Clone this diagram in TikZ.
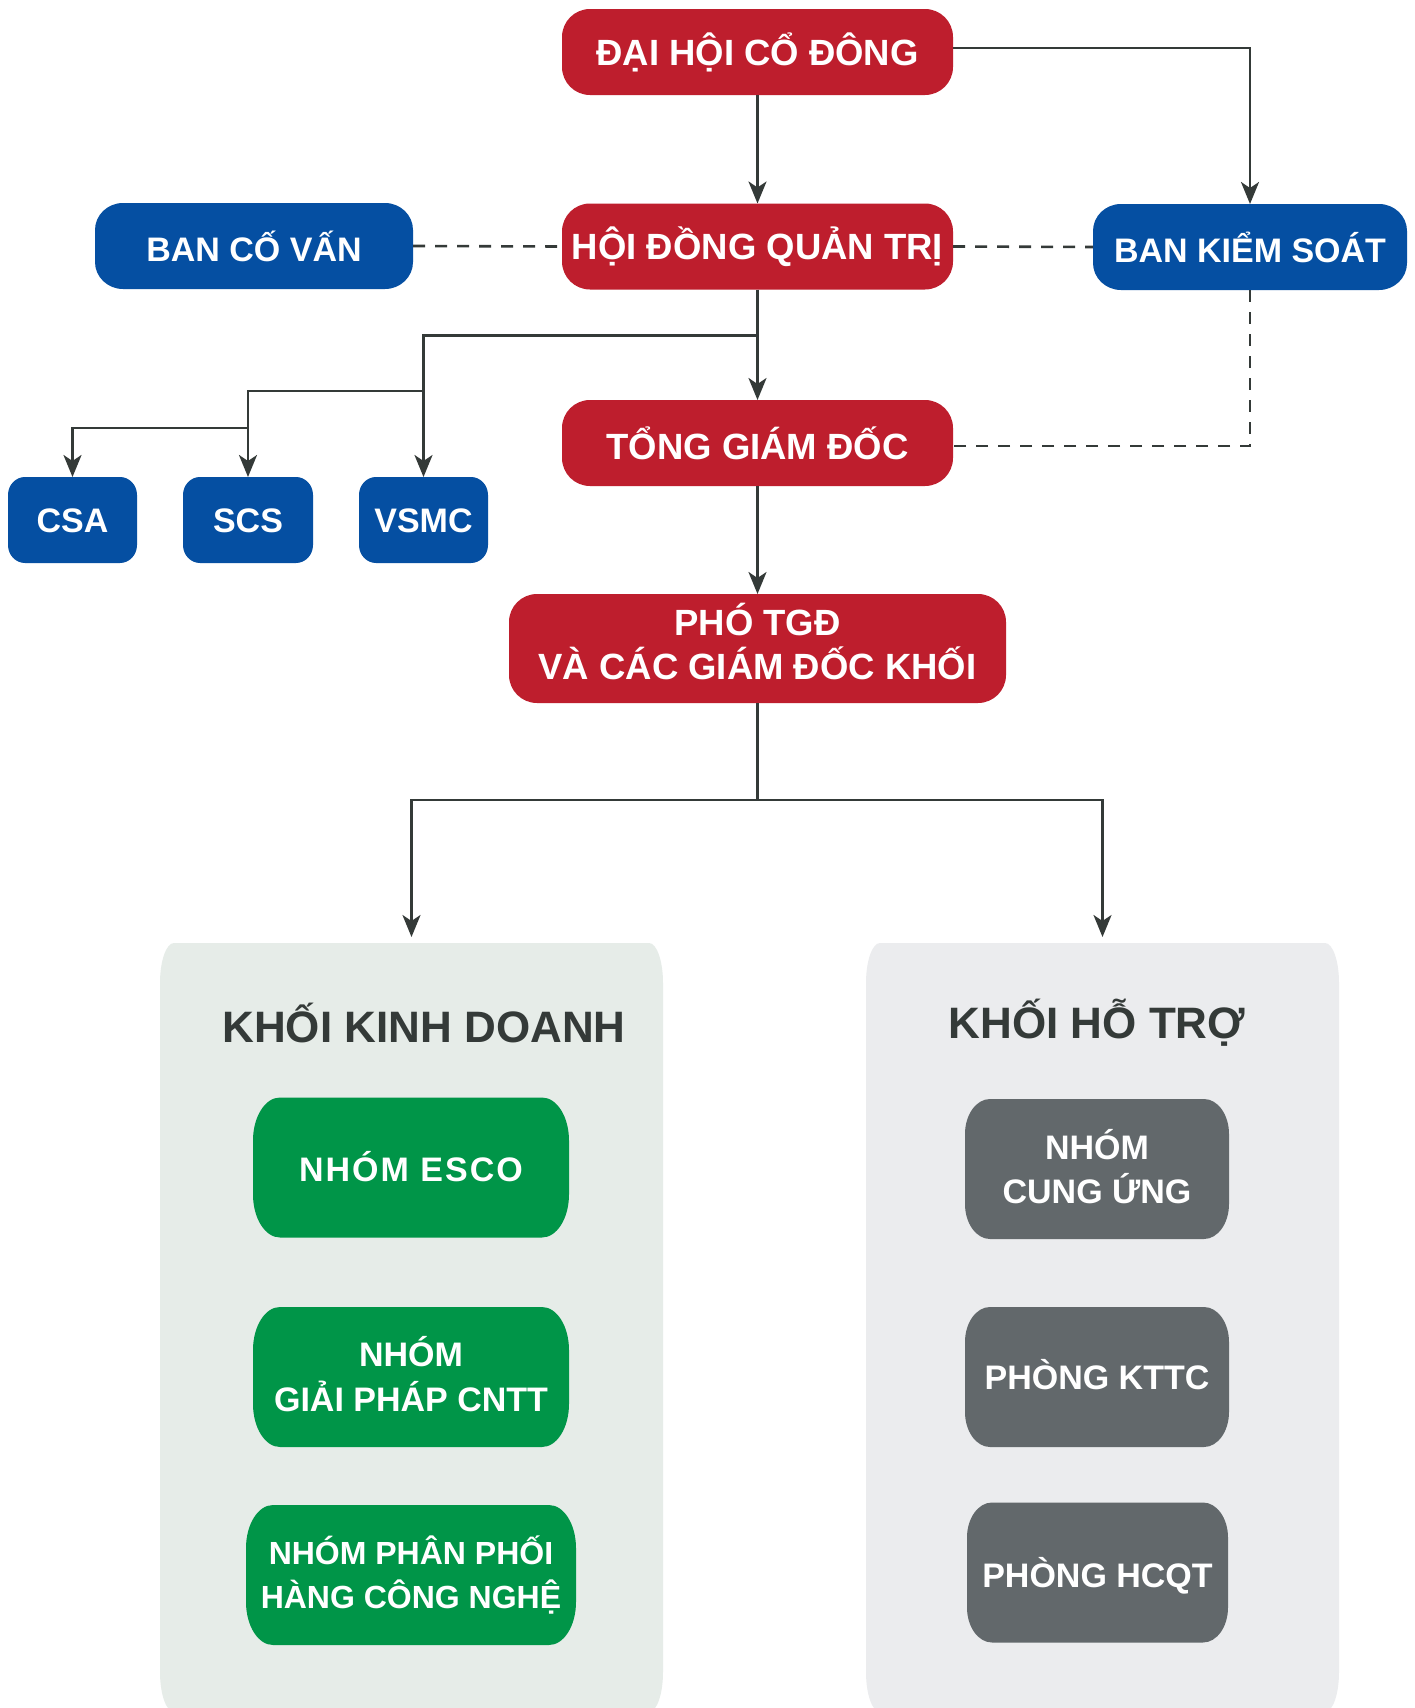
\documentclass[tikz,border=0pt]{standalone}
\usepackage{fontspec}
\setmainfont{Liberation Sans}
\usetikzlibrary{arrows.meta,calc}
\definecolor{cRed}{HTML}{BE1E2D}
\definecolor{cBlue}{HTML}{054FA2}
\definecolor{cGreen}{HTML}{009548}
\definecolor{cGray}{HTML}{62686B}
\definecolor{cPanelL}{HTML}{E6ECE8}
\definecolor{cPanelR}{HTML}{EBECEE}
\definecolor{cLine}{HTML}{343A38}
\newcommand\ebshape[3]{%
  \fill[#1] let \p1=(path picture bounding box.south west), \p2=(path picture bounding box.north east) in
   (\x1,\y1+#3) -- (\x1,\y2-#3) arc[start angle=180,end angle=90,x radius=#2,y radius=#3]
   -- (\x2-#2,\y2) arc[start angle=90,end angle=0,x radius=#2,y radius=#3]
   -- (\x2,\y1+#3) arc[start angle=0,end angle=-90,x radius=#2,y radius=#3]
   -- (\x1+#2,\y1) arc[start angle=270,end angle=180,x radius=#2,y radius=#3] -- cycle;}
\tikzset{
  eb/.style n args={3}{rectangle, inner sep=0pt, outer sep=0pt, path picture={\ebshape{#1}{#2}{#3}}},
  redbox/.style={eb={cRed}{28pt}{28pt}, text=white, font=\fontsize{36.5}{44}\selectfont\bfseries,
     text height=26.5pt, text depth=0pt},
  bluebox/.style={eb={cBlue}{28pt}{27pt}, text=white, minimum height=86pt, font=\fontsize{34}{42}\selectfont\bfseries,
     text height=30pt, text depth=0pt},
  smallbox/.style={eb={cBlue}{17pt}{18pt}, text=white, minimum height=86pt, font=\fontsize{34}{42}\selectfont\bfseries,
     text height=24.3pt, text depth=0pt},
  greenbox/.style={eb={cGreen}{27pt}{43pt}, text=white, minimum height=140pt, align=center},
  graybox/.style={eb={cGray}{25pt}{35pt}, text=white, minimum height=140pt, align=center},
  panelbox/.style={eb={#1}{14pt}{40pt}, minimum height=769pt},
  paneltitle/.style={text=cLine, font=\fontsize{44}{52}\selectfont\bfseries, anchor=base, inner sep=0pt},
  conn/.style={draw=cLine, line width=2.6pt, -{Stealth[length=22pt,width=18pt,inset=6pt]}},
  plainline/.style={draw=cLine, line width=2.6pt},
  dashline/.style={draw=cLine, line width=2.6pt, dash pattern=on 12pt off 10pt},
}
\begin{document}
\begin{tikzpicture}[x=1pt,y=-1pt]
\useasboundingbox[fill=white] (0,0) rectangle (1414,1708);
% top level
\node[redbox, minimum width=391pt, minimum height=86pt] (dhcd) at (757.5,52) {ĐẠI HỘI CỔ ĐÔNG};
\node[redbox, minimum width=391pt, minimum height=86pt] (hdqt) at (757.5,246.5) {HỘI ĐỒNG QUẢN TRỊ};
\node[bluebox, minimum width=318pt] (bcv) at (254,246) {BAN CỐ VẤN};
\node[bluebox, minimum width=314pt] (bks) at (1250,247) {BAN KIỂM SOÁT};
\node[redbox, minimum width=391pt, minimum height=86pt, text height=32pt] (tgd) at (757.5,443) {TỔNG GIÁM ĐỐC};
\node[smallbox, minimum width=129pt] (csa) at (72.5,520) {CSA};
\node[smallbox, minimum width=130pt] (scs) at (248,520) {SCS};
\node[smallbox, minimum width=129pt] (vsmc) at (423.5,520) {VSMC};
\node[redbox, minimum width=497pt, minimum height=109pt, align=center, text height=70.5pt, text depth=9pt] (pho) at (757.5,648.5) {PHÓ TGĐ\\VÀ CÁC GIÁM ĐỐC KHỐI};
% panels
\node[panelbox=cPanelL, minimum width=503pt] (kkd) at (411.5,1327.5) {};
\node[panelbox=cPanelR, minimum width=473pt] (kht) at (1102.5,1327.5) {};
\node[paneltitle] (ttl1) at (424,1042) {KHỐI KINH DOANH};
\node[paneltitle] (ttl2) at (1097,1038) {KHỐI HỖ TRỢ};
% business boxes
\node[greenbox, minimum width=316pt, font=\fontsize{34}{44}\selectfont\bfseries\addfontfeatures{LetterSpace=6}, text height=28.3pt, text depth=0pt] (esco) at (411,1167.5) {NHÓM ESCO};
\node[greenbox, minimum width=316pt, font=\fontsize{34}{45}\selectfont\bfseries, text height=69.3pt, text depth=0pt] (gp) at (411,1377) {NHÓM\\GIẢI PHÁP CNTT};
\node[greenbox, minimum width=330pt, font=\fontsize{32}{44}\selectfont\bfseries, text height=66.9pt, text depth=0pt] (pp) at (411,1575) {NHÓM PHÂN PHỐI\\HÀNG CÔNG NGHỆ};
% support boxes
\node[graybox, minimum width=264pt, font=\fontsize{34}{44}\selectfont\bfseries, text height=68.3pt, text depth=0pt] (cu) at (1097,1169) {NHÓM\\CUNG ỨNG};
\node[graybox, minimum width=264pt, font=\fontsize{34}{44}\selectfont\bfseries, text height=24.3pt, text depth=0pt] (kttc) at (1097,1377) {PHÒNG KTTC};
\node[graybox, minimum width=261pt, font=\fontsize{34}{44}\selectfont\bfseries, text height=30.3pt, text depth=0pt] (hcqt) at (1097.5,1572.5) {PHÒNG HCQT};
% connectors
\draw[conn] (dhcd) -- (hdqt);
\draw[conn] ([yshift=4pt]dhcd.east) -| (bks.north);
\draw[dashline] (bcv.east) -- (hdqt.west);
\draw[dashline] (hdqt.east) -- (bks.west);
\draw[conn] (hdqt) -- (tgd);
\coordinate (j1) at ($(hdqt.south)+(0,46)$);
\coordinate (j2) at ($(vsmc.north)+(0,-86)$);
\coordinate (j3) at ($(scs.north)+(0,-49)$);
\draw[conn] (j1) -| (vsmc.north);
\draw[conn] (j2) -| (scs.north);
\draw[conn] (j3) -| (csa.north);
\draw[dashline] (bks.south) |- ([yshift=-3pt]tgd.east);
\draw[conn] (tgd) -- (pho);
\coordinate (j4) at ($(pho.south)+(0,97)$);
\draw[plainline] (pho.south) -- (j4);
\draw[conn, shorten >=6pt] (j4) -| (kkd.north);
\draw[conn, shorten >=6pt] (j4) -| (kht.north);
\end{tikzpicture}
\end{document}
